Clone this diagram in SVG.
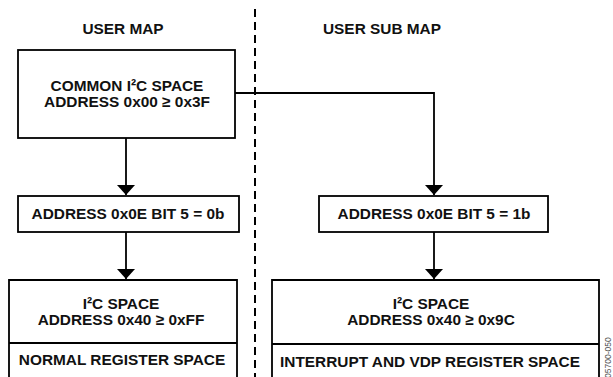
<svg xmlns="http://www.w3.org/2000/svg" width="613" height="377" viewBox="0 0 613 377">
<style>
.box{fill:#fff;stroke:#000;stroke-width:1.8}
.ln{fill:none;stroke:#000;stroke-width:1.8}
.t{font-family:"Liberation Sans",Arial,sans-serif;font-weight:bold;font-size:15.4px;fill:#111;text-anchor:middle}
.id{font-family:"Liberation Sans",Arial,sans-serif;font-size:8.5px;fill:#555}
</style>
<defs>
<marker id="ah" viewBox="0 0 10 18" refX="10" refY="9" markerWidth="10" markerHeight="18" markerUnits="userSpaceOnUse" orient="auto">
<path d="M0,0 L10,9 L0,18 Z" fill="#000"/>
</marker>
</defs>
<rect width="613" height="377" fill="#fff"/>
<g id="divider">
<line x1="255" y1="9" x2="255" y2="377" stroke="#000" stroke-width="2" stroke-dasharray="8 5"/>
</g>
<g id="headers">
<text class="t" x="123" y="34">USER MAP</text>
<text class="t" x="382" y="34">USER SUB MAP</text>
</g>
<g id="connectors">
<path class="ln" d="M126,138 V195" marker-end="url(#ah)"/>
<path class="ln" d="M126,232 V279" marker-end="url(#ah)"/>
<path class="ln" d="M235,93 H434 V195" marker-end="url(#ah)"/>
<path class="ln" d="M434,232 V279" marker-end="url(#ah)"/>
</g>
<g id="common">
<rect class="box" x="18" y="50" width="217" height="88"/>
<text class="t" x="127" y="91">COMMON I²C SPACE</text>
<text class="t" x="127" y="107">ADDRESS 0x00 ≥ 0x3F</text>
</g>
<g id="bit0">
<rect class="box" x="18" y="196" width="221" height="36"/>
<text class="t" x="128" y="219">ADDRESS 0x0E BIT 5 = 0b</text>
</g>
<g id="bit1">
<rect class="box" x="319" y="196" width="229" height="36"/>
<text class="t" x="434" y="219">ADDRESS 0x0E BIT 5 = 1b</text>
</g>
<g id="userspace">
<path class="box" d="M9,380 V280 H237 V380"/>
<line class="ln" x1="9" y1="343" x2="237" y2="343"/>
<text class="t" x="121" y="309">I²C SPACE</text>
<text class="t" x="121" y="325">ADDRESS 0x40 ≥ 0xFF</text>
<text class="t" x="122" y="365">NORMAL REGISTER SPACE</text>
</g>
<g id="subspace">
<path class="box" d="M272,380 V280 H599 V380"/>
<line class="ln" x1="272" y1="344" x2="599" y2="344"/>
<text class="t" x="431" y="309">I²C SPACE</text>
<text class="t" x="431" y="325">ADDRESS 0x40 ≥ 0x9C</text>
<text class="t" x="430" y="367">INTERRUPT AND VDP REGISTER SPACE</text>
</g>
<text class="id" transform="translate(611,378) rotate(-90)">05700-050</text>
</svg>
